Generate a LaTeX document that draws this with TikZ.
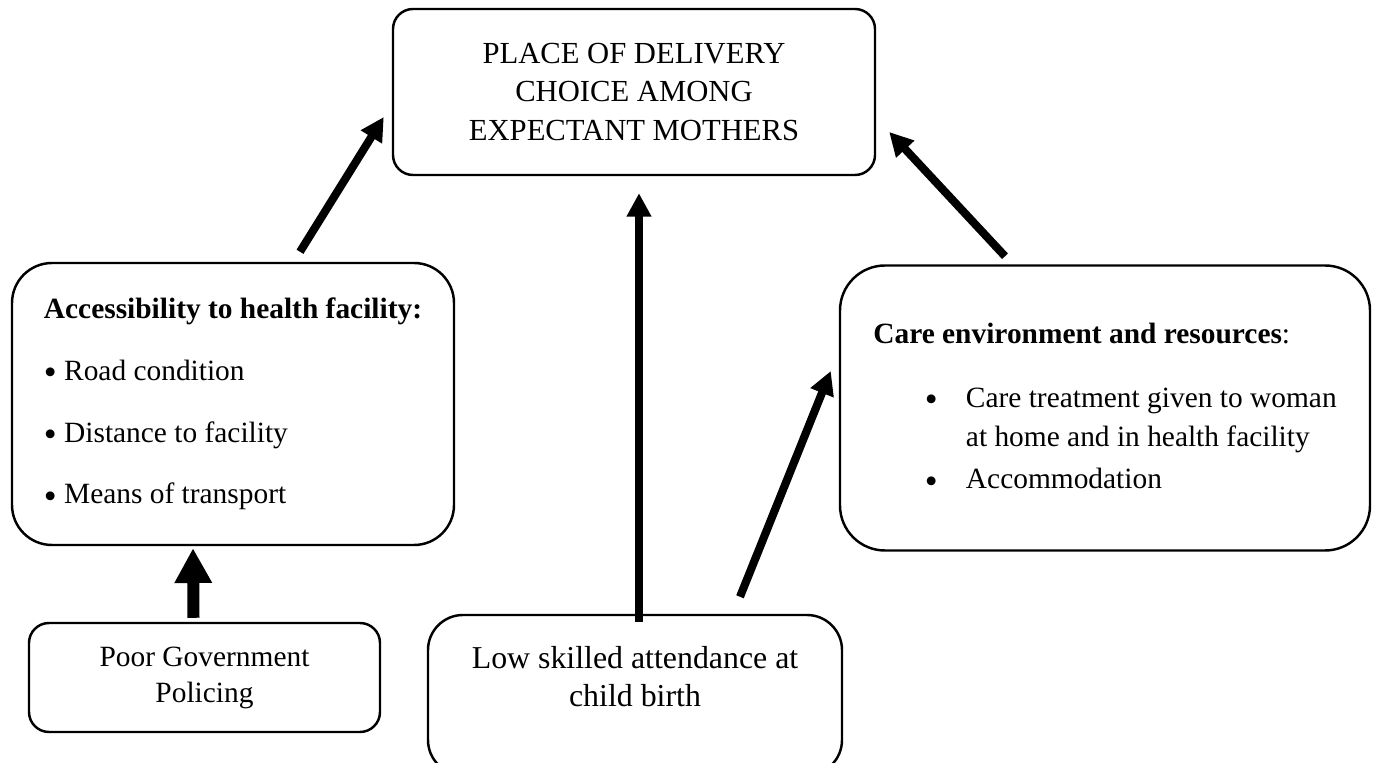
\documentclass[tikz,border=0pt]{standalone}
\usepackage{fontspec}
\setmainfont{Liberation Serif}
\usetikzlibrary{arrows.meta}
\newcommand{\s}{0.01434cm}
\newcommand{\bigbul}{\raisebox{-1.8pt}{\fontsize{15}{15}\selectfont\textbullet}}

\begin{document}
\begin{tikzpicture}[x=\s, y=-\s,
    box/.style={draw, line width=1pt, rounded corners=20*\s, inner sep=0pt},
    arr/.style={line width=3.3pt, -{Triangle[length=9.6pt, width=9.6pt]}},
    fatarr/.style={line width=4.9pt, -{Triangle[length=14.2pt, width=14.4pt]}}]
    \useasboundingbox (0,0) rectangle (1380,763);

    % Top
    \node[box, minimum width=482*\s, minimum height=166*\s, align=center,
          font=\fontsize{12.5}{15.9}\selectfont] (place) at (634,92)
          {PLACE OF DELIVERY\\CHOICE AMONG\\EXPECTANT MOTHERS};

    % Middle row
    \node[box, rounded corners=40*\s, minimum width=442*\s, minimum height=282*\s, align=left,
          font=\fontsize{12}{25.2}\selectfont] (access) at (233,404)
          {\textbf{Accessibility to health facility:}\\
           \bigbul\ Road condition\\
           \bigbul\ Distance to facility\\
           \bigbul\ Means of transport};
    \node[box, rounded corners=45*\s, minimum width=530*\s, minimum height=285*\s, align=left,
          font=\fontsize{12}{16.3}\selectfont] (care) at (1105,408)
          {\textbf{Care environment and resources}:\\[9.8pt]
           \hspace*{21pt}\makebox[16.8pt][l]{\bigbul}Care treatment given to woman\\
           \hspace*{37.8pt}at home and in health facility\\[0.8pt]
           \hspace*{21pt}\makebox[16.8pt][l]{\bigbul}Accommodation};

    % Bottom row
    \node[box, minimum width=351*\s, minimum height=109*\s, align=center,
          font=\fontsize{12}{14.7}\selectfont] (gov) at (204.5,677.5)
          {Poor Government\\Policing};
    \node[box, rounded corners=35*\s, minimum width=414*\s, minimum height=160*\s, align=center,
          font=\fontsize{13}{15.5}\selectfont] (skill) at (635,695)
          {Low skilled attendance at\\child birth\\ \mbox{}};

    % Arrows
    \draw[arr] ([xshift=67*\s, yshift=10*\s]access.north) -- ([xshift=-8*\s, yshift=-25*\s]place.west);
    \draw[arr] ([xshift=4*\s, yshift=-8*\s]skill.north) -- ([xshift=5*\s, yshift=-17*\s]place.south);
    \draw[arr] ([xshift=-100*\s, yshift=8*\s]care.north) -- ([xshift=13*\s, yshift=-40*\s]place.east);
    \draw[arr] ([xshift=105*\s, yshift=17*\s]skill.north) -- ([xshift=-8*\s, yshift=37*\s]care.west);
    \draw[fatarr] ([xshift=-11*\s, yshift=4*\s]gov.north) -- ([xshift=-40*\s, yshift=-2*\s]access.south);

\end{tikzpicture}
\end{document}
